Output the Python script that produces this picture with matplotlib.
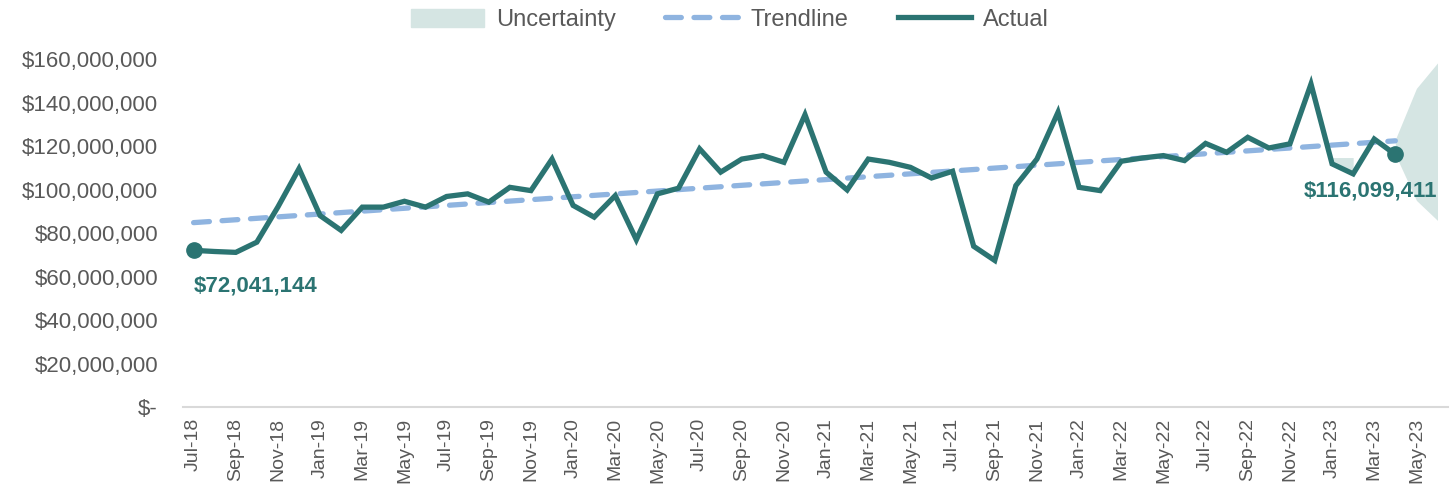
import numpy as np
import pandas as pd
import matplotlib
matplotlib.use("Agg")
import matplotlib.pyplot as plt
from matplotlib.patches import Patch
from matplotlib.lines import Line2D

plt.rcParams['font.family'] = ['Liberation Sans', 'DejaVu Sans']

# months on the category axis (Jul-18 .. Jun-23)
months = pd.date_range('2018-07-01', periods=60, freq='MS').strftime('%b-%y').tolist()

# actual monthly values, millions of $ (Jul-18 .. Apr-23)
actual = [72.04, 71.5, 71.1, 75.8, 92.0, 109.6, 88.0, 81.2, 91.9, 91.9,
          94.6, 91.9, 96.8, 98.0, 94.2, 101.0, 99.5, 114.0, 92.7, 87.3,
          97.2, 76.9, 98.0, 100.6, 118.7, 108.0, 114.0, 115.6, 112.5, 134.4,
          108.0, 99.8, 114.0, 112.5, 110.2, 105.3, 108.4, 73.9, 67.4, 101.8,
          114.0, 135.5, 101.0, 99.5, 113.0, 114.5, 115.6, 113.3, 121.2, 117.1,
          124.0, 119.1, 121.0, 148.5, 111.8, 107.2, 123.2, 116.1]

# uncertainty band (Apr-23 .. Jun-23), millions of $
band_idx = [57, 58, 59]
band_low = [116.1, 95.0, 85.8]
band_high = [123.0, 146.5, 158.2]

# small shaded sliver at Jan-23 .. Feb-23
sliver_idx = [54, 55]
sliver_high = [114.7, 114.7]

first_label = "$72,041,144"
last_label = "$116,099,411"

teal = "#2B7472"
blue = "#8FB4E0"
band_col = "#D5E5E3"
gray = "#595959"

x = np.arange(len(actual))
y = np.array(actual) * 1e6
coef = np.polyfit(x, y, 1)
trend = np.polyval(coef, x)

fig = plt.figure(figsize=(14.54, 5.01), dpi=100)
ax = fig.add_axes([0.1259, 0.1876, 0.87, 0.6946])

ax.fill_between(band_idx, np.array(band_low) * 1e6, np.array(band_high) * 1e6,
                color=band_col, linewidth=0, zorder=1)
ax.fill_between(sliver_idx, y[sliver_idx], np.array(sliver_high) * 1e6,
                color=band_col, linewidth=0, zorder=1)
ax.plot(x, trend, color=blue, linewidth=3.8, dashes=(3.0, 2.4),
        dash_capstyle='round', zorder=2)
ax.plot(x, y, color=teal, linewidth=3.8, solid_joinstyle='miter', zorder=3)
ax.plot([x[0], x[-1]], [y[0], y[-1]], 'o', color=teal, markersize=11, zorder=4)

ax.annotate(first_label, (x[0], y[0]), xytext=(0, -26), textcoords='offset points',
            ha='left', va='center', fontsize=16, fontweight='bold', color=teal)
ax.annotate(last_label, (x[-1], y[-1]), xytext=(30, -26), textcoords='offset points',
            ha='right', va='center', fontsize=16, fontweight='bold', color=teal)

ax.set_xlim(-0.5, len(months) - 0.5)
ax.set_ylim(0, 160e6)
ax.set_yticks(np.arange(0, 160e6 + 1, 20e6))
ax.set_yticklabels(['$-'] + ['${:,.0f}'.format(v) for v in np.arange(20e6, 160e6 + 1, 20e6)])
ax.set_xticks(np.arange(0, len(months), 2))
ax.set_xticklabels(months[::2], rotation=90)
ax.tick_params(axis='x', length=0, labelsize=14, labelcolor=gray, pad=8)
ax.tick_params(axis='y', length=0, labelsize=16, labelcolor=gray, pad=18)

for s in ['top', 'right', 'left']:
    ax.spines[s].set_visible(False)
ax.spines['bottom'].set_color('#D9D9D9')
ax.spines['bottom'].set_linewidth(1.5)

handles = [Patch(color=band_col, label='Uncertainty'),
           Line2D([], [], color=blue, linewidth=3.8, dashes=(3.0, 2.4),
                  dash_capstyle='round', label='Trendline'),
           Line2D([], [], color=teal, linewidth=3.8, label='Actual')]
fig.legend(handles=handles, loc='upper center', bbox_to_anchor=(0.502, 1.025), ncol=3,
           frameon=False, fontsize=17, labelcolor=gray, handlelength=3.1,
           handleheight=0.8, columnspacing=2.1, handletextpad=0.5)

fig.savefig('out.png', dpi=100)
